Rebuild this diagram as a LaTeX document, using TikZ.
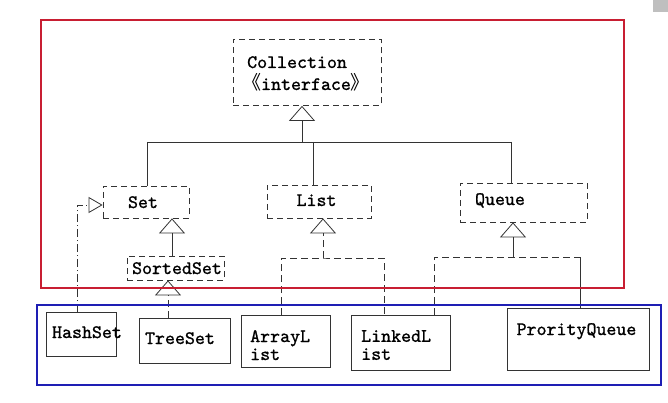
\documentclass[tikz,border=0pt]{standalone}
\usepackage{fontspec}
\usetikzlibrary{arrows.meta}
\newfontfamily\boxfont[FakeBold=1]{lmmono10-regular.otf}
\newfontfamily\cjk{Noto Sans CJK SC}
\definecolor{frameRed}{RGB}{200,30,50}
\definecolor{frameBlue}{RGB}{30,30,180}
\tikzset{%
  iface/.style={draw=black!80,line width=0.8pt,dash pattern=on 6pt off 4pt,
    inner sep=0pt}, % interface box
  impl/.style={draw=black!80,line width=0.8pt,inner sep=0pt}, % class box
  txt/.style={font=\boxfont\fontsize{19}{18}\selectfont,inner sep=0pt},
  link/.style={draw=black!80,line width=0.8pt},
  dashes/.style={link,dash pattern=on 7pt off 4pt},
  inherit/.style={link,-{Triangle[open,width=26pt,length=15pt]}},
  realize/.style={dashes,-{Triangle[open,width=16pt,length=14pt]}}
}

\begin{document}
\begin{tikzpicture}[x=1pt,y=-1pt] % one unit = one pixel
\useasboundingbox (0,0) rectangle (668,403);
\fill[black!25] (653,0) rectangle (668,12);

% interfaces
\node[iface,minimum width=148pt,minimum height=66pt] (coll) at (307,72.5) {};
\node[iface,minimum width=86pt,minimum height=32pt] (set) at (146,202) {};
\node[iface,minimum width=97pt,minimum height=24pt] (sorted) at (175.5,268) {};
\node[iface,minimum width=104pt,minimum height=33pt] (list) at (319,201.5) {};
\node[iface,minimum width=127pt,minimum height=39pt] (queue) at (523.5,202.5) {};

% classes
\node[impl,minimum width=70pt,minimum height=44pt] (hashset) at (81,334) {};
\node[impl,minimum width=91pt,minimum height=45pt] (treeset) at (184.5,340.5) {};
\node[impl,minimum width=89pt,minimum height=52pt] (arraylist) at (285.5,341) {};
\node[impl,minimum width=99pt,minimum height=55pt] (linkedlist) at (400.5,342.5) {};
\node[impl,minimum width=142pt,minimum height=62pt] (pqueue) at (578,339) {};

% texts
\node[txt,anchor=base west] (colltxt) at (247,68) {Collection};
\node[txt,anchor=base] (ifacetxt) at (306,90) {{\cjk 《}interface{\cjk 》}};
\node[txt,anchor=base] (settxt) at (143,208) {Set};
\node[txt,anchor=base] (sortedtxt) at (177,274) {SortedSet};
\node[txt,anchor=base] (listtxt) at (316.5,206) {List};
\node[txt,anchor=base] (queuetxt) at (500,205) {Queue};
\node[txt,anchor=base] (hashsettxt) at (87,338) {HashSet};
\node[txt,anchor=base] (treesettxt) at (180,344) {TreeSet};
\node[txt,anchor=north west,align=left] (arraylisttxt) at (250,330) {ArrayL\\ist};
\node[txt,anchor=north west,align=left] (linkedlisttxt) at (361,330) {LinkedL\\ist};
\node[txt,anchor=base] (pqueuetxt) at (576.5,335) {ProrityQueue};

% Collection and its three sub-interfaces
\coordinate (busL) at (147,142);
\coordinate (busC) at (302,142);
\coordinate (busM) at (313,142);
\coordinate (busR) at (511,142);
\draw[link] (busL) -- (busR);
\draw[inherit] (busC) -- (busC |- coll.south);
\draw[link] (busL) -- (busL |- set.north);
\draw[link] (busM) -- (busM |- list.north);
\draw[link] (busR) -- (busR |- queue.north);

% Set branch
\coordinate (ss) at (172,256);
\coordinate (ts) at (168,318);
\coordinate (hs) at (77,312);
\draw[inherit] (ss) -- (ss |- set.south);
\draw[inherit,dashes] (ts) -- (ts |- sorted.south);
\draw[realize,dash pattern=on 8pt off 3pt on 1pt off 3pt] (hs) |- ([yshift=-3pt]set.west);

% List branch
\coordinate (lj) at (323,258);
\coordinate (al) at (281,315);
\coordinate (ll) at (384,315);
\draw[inherit,dashes] (lj) -- (lj |- list.south);
\draw[dashes] (al) |- (lj) -| (ll);

% Queue branch
\coordinate (qj) at (513,257);
\coordinate (lq) at (434,315);
\coordinate (pq) at (580,308);
\draw[inherit] (qj) -- (qj |- queue.south);
\draw[dashes] (lq) |- (qj -| pq);
\draw[link] (qj -| pq) -- (pq);

% frames
\draw[frameRed,line width=2pt] (41,20) rectangle (624,288);
\draw[frameBlue,line width=2pt] (37,305) rectangle (661,385);
\end{tikzpicture}
\end{document}
